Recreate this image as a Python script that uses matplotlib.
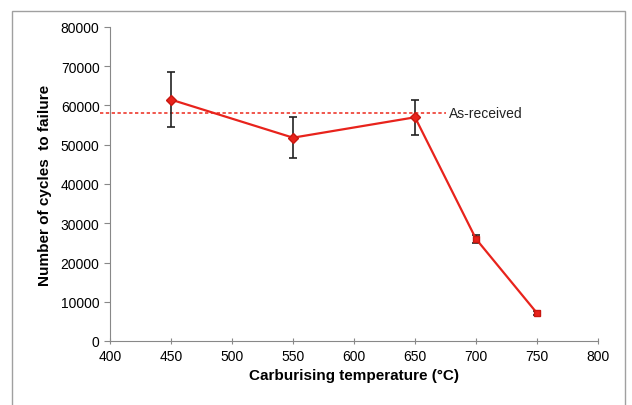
import matplotlib
matplotlib.use("Agg")
import matplotlib.pyplot as plt
from matplotlib.patches import Rectangle

temps = [450, 550, 650, 700, 750]
cycles = [61500, 51800, 57000, 26000, 7100]
err_low = [7000, 5200, 4500, 1000, 500]
err_high = [7000, 5200, 4500, 1000, 500]
markers = ['D', 'D', 'D', 's', 's']
as_received = 58000
x_ticks = [400, 450, 500, 550, 600, 650, 700, 750, 800]
y_ticks = [0, 10000, 20000, 30000, 40000, 50000, 60000, 70000, 80000]

plt.rcParams['font.family'] = ['Liberation Sans', 'DejaVu Sans']

fig = plt.figure(figsize=(6.32, 4.06), dpi=100)
fig.patches.append(Rectangle((12/632, -0.05), (625-12)/632, (406-12)/406 + 0.05,
                             transform=fig.transFigure, fill=False,
                             edgecolor='#a0a0a0', linewidth=1.0))
ax = fig.add_axes([110/632, (406-342)/406, (598-110)/632, (342-28)/406])

ax.plot([392, 675], [as_received, as_received], linestyle=(0, (2, 1.5)),
        color='#ee3a2e', linewidth=1.2, clip_on=False, zorder=2)
ax.text(678, as_received, 'As-received', va='center', ha='left', fontsize=10, color='#222222')

ax.errorbar(temps, cycles, yerr=[err_low, err_high], color='#e8231c', linewidth=1.6,
            ecolor='#222222', elinewidth=1.2, capsize=3, capthick=1.2, zorder=3)
for t, c, m in zip(temps, cycles, markers):
    ax.plot([t], [c], marker=m, markersize=5 if m == 'D' else 4.5, color='#e8231c',
            markeredgecolor='#c81810', linestyle='none', zorder=4)

ax.set_xlim(400, 800)
ax.set_ylim(0, 80000)
ax.set_xticks(x_ticks)
ax.set_yticks(y_ticks)
ax.tick_params(axis='x', direction='inout', length=5, color='#888888', labelsize=10, pad=3)
ax.tick_params(axis='y', direction='out', length=4, color='#888888', labelsize=10)
for s in ['top', 'right']:
    ax.spines[s].set_visible(False)
for s in ['left', 'bottom']:
    ax.spines[s].set_color('#888888')

ax.set_xlabel('Carburising temperature (°C)', fontsize=11, fontweight='bold')
ax.set_ylabel('Number of cycles  to failure', fontsize=11, fontweight='bold', labelpad=6)

fig.savefig('out.png', dpi=100)
